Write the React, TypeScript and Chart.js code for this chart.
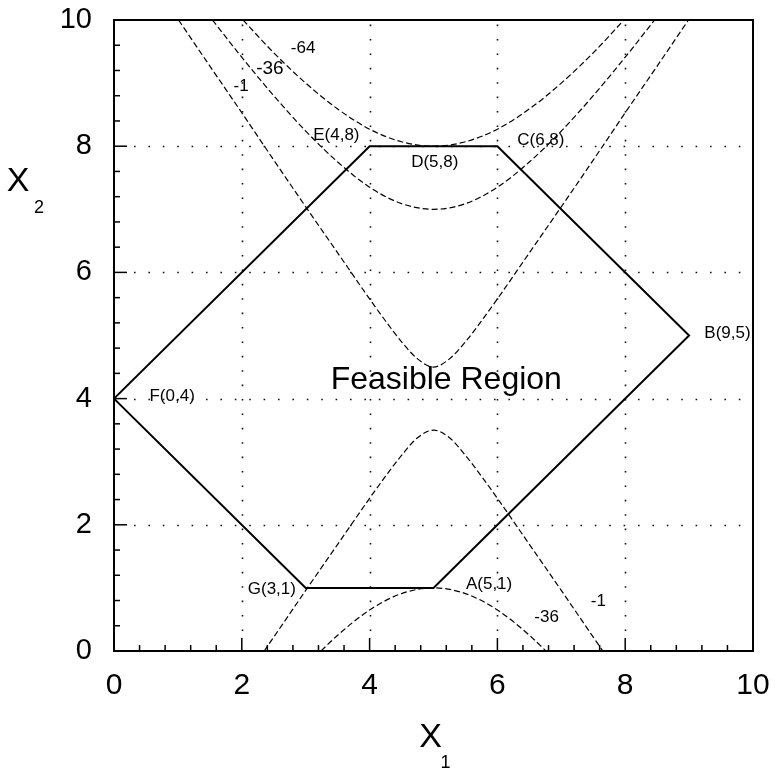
import React, { useEffect, useRef } from 'react';
import { Chart, registerables } from 'chart.js';

Chart.register(...registerables);

// Feasible region polygon F -> E -> C -> B -> A -> G -> F
const feasibleX = [0, 4, 6, 9, 5, 3, 0];
const feasibleY = [4, 8, 8, 5, 1, 1, 4];

// Contour -1 (upper branch)
const c1UpperX = [1.01, 1.5, 2, 2.5, 3, 3.5, 4, 4.25, 4.5, 4.75, 5, 5.25, 5.5, 5.75, 6, 6.5, 7, 7.5, 8, 8.5, 8.99];
const c1UpperY = [10, 9.27, 8.53, 7.78, 7.04, 6.31, 5.58, 5.23, 4.9, 4.63, 4.5, 4.63, 4.9, 5.23, 5.58, 6.31, 7.04, 7.78, 8.53, 9.27, 10];
// Contour -36 (upper branch)
const c36UpperX = [1.54, 2, 2.5, 3, 3.5, 4, 4.5, 5, 5.5, 6, 6.5, 7, 7.5, 8, 8.46];
const c36UpperY = [10, 9.41, 8.8, 8.24, 7.75, 7.35, 7.09, 7, 7.09, 7.35, 7.75, 8.24, 8.8, 9.41, 10];
// Contour -64 (upper branch)
const c64UpperX = [2.02, 2.5, 3, 3.5, 4, 4.5, 5, 5.5, 6, 6.5, 7, 7.5, 7.98];
const c64UpperY = [10, 9.48, 9.0, 8.59, 8.27, 8.07, 8, 8.07, 8.27, 8.59, 9.0, 9.48, 10];
// Contour -1 (lower branch)
const c1LowerX = [2.35, 2.5, 3, 3.5, 4, 4.25, 4.5, 4.75, 5, 5.25, 5.5, 5.75, 6, 6.5, 7, 7.5, 7.65];
const c1LowerY = [0, 0.22, 0.96, 1.69, 2.42, 2.77, 3.1, 3.38, 3.5, 3.38, 3.1, 2.77, 2.42, 1.69, 0.96, 0.22, 0];
// Contour -36 (lower branch)
const c36LowerX = [3.24, 3.5, 4, 4.5, 5, 5.5, 6, 6.5, 6.76];
const c36LowerY = [0, 0.25, 0.65, 0.91, 1, 0.91, 0.65, 0.25, 0];

// Vertex labels
const vertexLabels = ['E(4,8)', 'D(5,8)', 'C(6,8)', 'B(9,5)', 'F(0,4)', 'G(3,1)', 'A(5,1)'];
const vertexLabelX = [3.48, 5.02, 6.68, 9.6, 0.91, 2.47, 5.87];
const vertexLabelY = [8.18, 7.74, 8.09, 5.04, 4.03, 0.98, 1.05];

// Contour labels
const contourLabels = ['-64', '-36', '-1', '-36', '-1'];
const contourLabelX = [2.96, 2.44, 1.99, 6.77, 7.58];
const contourLabelY = [9.55, 9.23, 8.95, 0.54, 0.78];

const regionLabel = 'Feasible Region';
const regionLabelX = 5.2;
const regionLabelY = 4.29;

const axisMin = 0;
const axisMax = 10;
const majorStep = 2;
const minorStep = 0.4;

const FONT = '"Liberation Sans", Arial, Helvetica, sans-serif';

const toPoints = (xs: number[], ys: number[]) => xs.map((x, i) => ({ x, y: ys[i] }));

const decorPlugin = {
  id: 'decor',
  beforeDatasetsDraw(chart: any) {
    const { ctx, chartArea: a, scales } = chart;
    const xs = scales.x;
    const ys = scales.y;
    ctx.save();
    ctx.strokeStyle = '#111';
    ctx.lineWidth = 1.6;
    ctx.setLineDash([1.6, 12.8]);
    for (let v = axisMin + majorStep; v < axisMax - 1e-6; v += majorStep) {
      const px = Math.round(xs.getPixelForValue(v)) + 0.5;
      ctx.beginPath();
      ctx.moveTo(px, a.bottom - 20);
      ctx.lineTo(px, a.top + 4);
      ctx.stroke();
      const py = Math.round(ys.getPixelForValue(v)) + 0.5;
      ctx.beginPath();
      ctx.moveTo(a.left + 20, py);
      ctx.lineTo(a.right - 4, py);
      ctx.stroke();
    }
    ctx.restore();
  },
  afterDatasetsDraw(chart: any) {
    const { ctx, chartArea: a, scales } = chart;
    const xs = scales.x;
    const ys = scales.y;
    ctx.save();
    // frame
    ctx.strokeStyle = '#000';
    ctx.lineWidth = 2;
    ctx.setLineDash([]);
    ctx.strokeRect(a.left, a.top, a.right - a.left, a.bottom - a.top);
    // ticks (inward, bottom and left only)
    ctx.lineWidth = 1.5;
    const n = Math.round((axisMax - axisMin) / minorStep);
    for (let i = 1; i < n; i++) {
      const v = axisMin + i * minorStep;
      const isMajor = Math.abs(v / majorStep - Math.round(v / majorStep)) < 1e-6;
      const len = isMajor ? 13 : 6;
      const px = xs.getPixelForValue(v);
      ctx.beginPath();
      ctx.moveTo(px, a.bottom);
      ctx.lineTo(px, a.bottom - len);
      ctx.stroke();
      const py = ys.getPixelForValue(v);
      ctx.beginPath();
      ctx.moveTo(a.left, py);
      ctx.lineTo(a.left + len, py);
      ctx.stroke();
    }
    // labels
    ctx.fillStyle = '#000';
    ctx.textAlign = 'center';
    ctx.textBaseline = 'middle';
    ctx.font = `17px ${FONT}`;
    vertexLabels.forEach((t, i) => {
      ctx.fillText(t, xs.getPixelForValue(vertexLabelX[i]), ys.getPixelForValue(vertexLabelY[i]));
    });
    contourLabels.forEach((t, i) => {
      ctx.font = i === 1 ? `19px ${FONT}` : `17px ${FONT}`;
      ctx.fillText(t, xs.getPixelForValue(contourLabelX[i]), ys.getPixelForValue(contourLabelY[i]));
    });
    ctx.font = `32px ${FONT}`;
    ctx.fillText(regionLabel, xs.getPixelForValue(regionLabelX), ys.getPixelForValue(regionLabelY));

    // axis titles with subscripts
    const cx = (a.left + a.right) / 2;
    ctx.font = `34px ${FONT}`;
    ctx.fillText('X', cx - 3, a.bottom + 87);
    ctx.font = `18px ${FONT}`;
    ctx.fillText('1', cx + 12, a.bottom + 112);
    ctx.font = `34px ${FONT}`;
    ctx.fillText('X', 18, 182);
    ctx.font = `18px ${FONT}`;
    ctx.fillText('2', 39, 208);
    ctx.restore();
  },
};

export default function App() {
  const ref = useRef<HTMLCanvasElement | null>(null);
  useEffect(() => {
    if (!ref.current) return;
    const curveStyle = {
      borderColor: '#000',
      borderWidth: 1.2,
      borderDash: [6, 3],
      pointRadius: 0,
      showLine: true,
      fill: false,
      cubicInterpolationMode: 'monotone' as const,
    };
    const chart = new Chart(ref.current, {
      type: 'scatter',
      data: {
        datasets: [
          {
            label: 'Feasible region',
            data: toPoints(feasibleX, feasibleY),
            borderColor: '#000',
            borderWidth: 2,
            pointRadius: 0,
            showLine: true,
            fill: false,
            tension: 0,
          },
          { label: '-1 upper', data: toPoints(c1UpperX, c1UpperY), ...curveStyle },
          { label: '-36 upper', data: toPoints(c36UpperX, c36UpperY), ...curveStyle },
          { label: '-64 upper', data: toPoints(c64UpperX, c64UpperY), ...curveStyle },
          { label: '-1 lower', data: toPoints(c1LowerX, c1LowerY), ...curveStyle },
          { label: '-36 lower', data: toPoints(c36LowerX, c36LowerY), ...curveStyle },
        ],
      },
      options: {
        animation: false,
        responsive: true,
        maintainAspectRatio: false,
        layout: { padding: { left: 0, top: 20, right: 22, bottom: 0 } },
        plugins: { legend: { display: false }, tooltip: { enabled: false } },
        scales: {
          x: {
            type: 'linear',
            min: axisMin,
            max: axisMax,
            grid: { display: false, drawTicks: false },
            border: { display: false },
            ticks: {
              stepSize: majorStep,
              color: '#000',
              padding: 17,
              font: { family: FONT, size: 30 },
            },
            afterFit: (s: any) => {
              s.height = 118;
              s.paddingLeft = 0;
              s.paddingRight = 0;
            },
          },
          y: {
            type: 'linear',
            min: axisMin,
            max: axisMax,
            grid: { display: false, drawTicks: false },
            border: { display: false },
            ticks: {
              stepSize: majorStep,
              color: '#000',
              padding: 22,
              font: { family: FONT, size: 29 },
            },
            afterFit: (s: any) => {
              s.width = 114;
              s.paddingTop = 0;
              s.paddingBottom = 0;
            },
          },
        },
      },
      plugins: [decorPlugin],
    });
    return () => chart.destroy();
  }, []);
  return (
    <div style={{ position: 'absolute', left: 0, top: 0, width: 775, height: 769 }}>
      <canvas ref={ref} />
    </div>
  );
}
